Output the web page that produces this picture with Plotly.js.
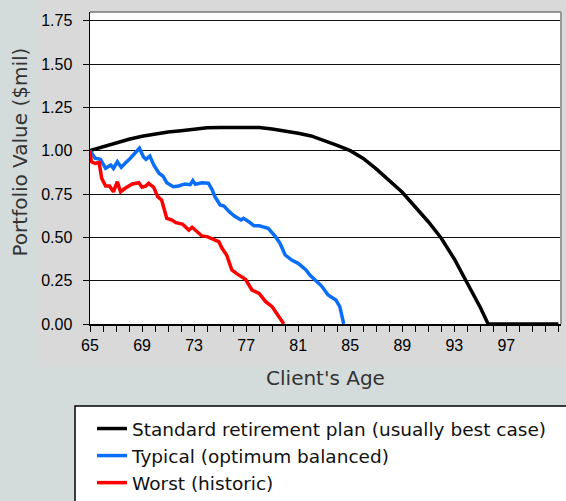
<!DOCTYPE html>
<html>
<head>
<meta charset="utf-8">
<script src="https://cdn.plot.ly/plotly-3.0.1.min.js"></script>
<style>html,body{margin:0;padding:0;background:#d9d9d9;overflow:hidden;}#chart{width:566px;height:501px;}</style>
</head>
<body>
<div id="chart"></div>
<script>
// Standard retirement plan (usually best case)
var stdAge = [65,66,67,68,69,70,71,72,73,74,75,76,77,78,79,80,81,82,83,84,85,86,87,88,89,90,91,92,93,94,95,95.6,96,97,98,99,100,101];
var stdVal = [1.00,1.023,1.046,1.066,1.083,1.098,1.108,1.115,1.124,1.132,1.133,1.133,1.133,1.133,1.125,1.115,1.10,1.085,1.06,1.03,1.00,0.955,0.895,0.83,0.76,0.675,0.59,0.495,0.375,0.235,0.095,0,0,0,0,0,0,0];

// Typical (optimum balanced)
var typAge = [65.0,65.4,65.8,66.2,66.6,66.8,67.1,67.4,67.7,68.1,68.8,69.1,69.3,69.6,69.9,70.3,70.6,70.9,71.4,71.8,72.3,72.7,72.9,73.1,73.6,74.1,74.4,74.6,75.0,75.3,75.7,76.1,76.6,76.8,77.2,77.6,78.0,78.7,79.25,79.6,80.0,80.5,81.0,81.6,81.9,82.3,82.8,83.3,83.9,84.2,84.5];
var typVal = [1.00,0.956,0.95,0.898,0.917,0.898,0.936,0.904,0.927,0.956,1.014,0.965,0.95,0.969,0.917,0.87,0.854,0.815,0.792,0.796,0.808,0.804,0.827,0.806,0.815,0.812,0.773,0.735,0.687,0.681,0.648,0.623,0.60,0.61,0.59,0.567,0.567,0.552,0.504,0.466,0.398,0.369,0.35,0.312,0.283,0.254,0.219,0.167,0.138,0.10,0.0];

// Worst (historic)
var wstAge = [65.0,65.1,65.4,65.7,65.9,66.2,66.5,66.8,67.1,67.35,67.7,68.25,68.75,69.0,69.3,69.5,69.9,70.2,70.5,70.9,71.3,71.6,72.1,72.6,72.85,73.2,73.6,74.0,74.6,74.9,75.15,75.5,75.9,76.3,76.95,77.45,78.0,78.5,79.0,79.4,79.9];
var wstVal = [1.0,0.936,0.927,0.931,0.84,0.796,0.796,0.763,0.821,0.763,0.783,0.808,0.815,0.789,0.796,0.812,0.789,0.735,0.716,0.61,0.60,0.585,0.577,0.542,0.558,0.533,0.508,0.504,0.485,0.475,0.437,0.398,0.312,0.289,0.258,0.196,0.177,0.129,0.10,0.052,0.0];

var seriesNames = ['Standard retirement plan (usually best case)', 'Typical (optimum balanced)', 'Worst (historic)'];
var seriesColors = ['#000000', '#0a6efa', '#ff0000'];

var yTicks = [0,0.25,0.5,0.75,1.0,1.25,1.5,1.75];
var yTickText = ['0.00','0.25','0.50','0.75','1.00','1.25','1.50','1.75'];

var xs = [stdAge, typAge, wstAge];
var ys = [stdVal, typVal, wstVal];
var traces = xs.map(function(x, i){
  return {
    x: x, y: ys[i], type: 'scatter', mode: 'lines', name: seriesNames[i],
    line: {color: seriesColors[i], width: 3.5}
  };
});

var tickFont = {family: 'Liberation Sans, Arial, sans-serif', size: 16, color: '#000'};
var titleFont = {family: 'DejaVu Sans, Verdana, sans-serif', size: 20, color: '#333'};

var layout = {
  width: 566, height: 501,
  margin: {l: 90, r: 5, t: 12, b: 177, pad: 0, autoexpand: false},
  paper_bgcolor: '#d9d9d9',
  plot_bgcolor: '#ffffff',
  showlegend: true,
  xaxis: {
    range: [65, 101.2], tick0: 65, dtick: 4, ticks: 'outside', ticklen: 6, tickcolor: '#000', tickwidth: 1,
    showline: true, linecolor: '#000', linewidth: 1.5, showgrid: false, zeroline: false,
    tickfont: tickFont,
    minor: {dtick: 1, tick0: 65, ticks: 'outside', ticklen: 6, tickcolor: '#000', tickwidth: 1, showgrid: false},
    title: {text: "Client's Age", font: titleFont, standoff: 18}
  },
  yaxis: {
    range: [0, 1.8], tickvals: yTicks, ticktext: yTickText, ticks: 'outside', ticklen: 6, tickcolor: '#000', tickwidth: 1,
    showline: true, linecolor: '#000', linewidth: 1.5, showgrid: true, gridcolor: '#111', gridwidth: 1, zeroline: false,
    tickfont: tickFont, ticklabelstandoff: 7,
    title: {text: '\u200b\u00a0\u00a0\u00a0\u00a0\u00a0Portfolio Value ($mil)', font: titleFont, standoff: 8}
  },
  legend: {
    x: 2 / 471, xanchor: 'left', y: -86 / 312, yanchor: 'top',
    bgcolor: 'rgba(0,0,0,0)', borderwidth: 0,
    font: {family: 'DejaVu Sans, Verdana, sans-serif', size: 18.5, color: '#111'},
    itemwidth: 30, traceorder: 'normal', tracegroupgap: 0
  },
  shapes: [
    {type: 'rect', xref: 'paper', yref: 'paper', x0: -0.25, x1: -0.1125, y0: -0.7, y1: 1.1, fillcolor: '#d3dbdb', line: {width: 0}, layer: 'below'},
    {type: 'rect', xref: 'paper', yref: 'paper', x0: -0.25, x1: 1.1, y0: -0.7, y1: -0.1378, fillcolor: '#d3dbdb', line: {width: 0}, layer: 'below'},
    {type: 'rect', xref: 'paper', yref: 'paper', x0: -0.0318, x1: 1.2, y0: -0.8, y1: -0.2628, fillcolor: '#ffffff', line: {color: '#000', width: 1.5}, layer: 'below'},
    {type: 'line', xref: 'paper', yref: 'paper', x0: 0, x1: 1, y0: 1, y1: 1, line: {color: '#777', width: 1.5}, layer: 'above'},
    {type: 'line', xref: 'paper', yref: 'paper', x0: 1, x1: 1, y0: 0, y1: 1, line: {color: '#999', width: 2}, layer: 'above'}
  ]
};

Plotly.newPlot('chart', traces, layout, {staticPlot: true, displayModeBar: false});
</script>
</body>
</html>
